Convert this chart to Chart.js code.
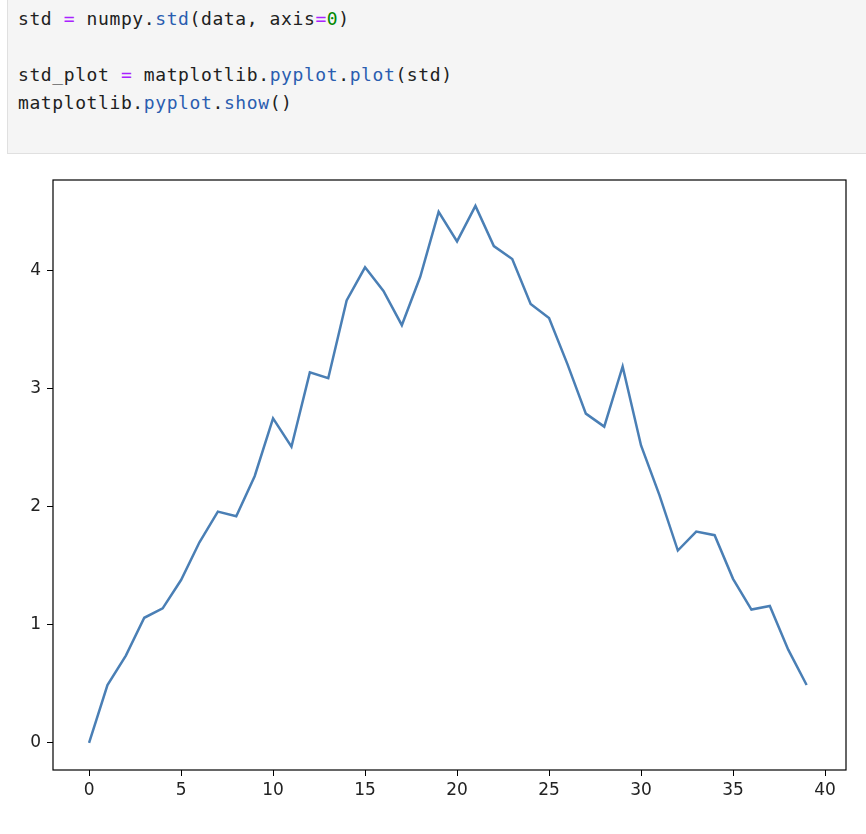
<!DOCTYPE html>
<html lang="en">
<head>
  <meta charset="UTF-8" />
  <title>std plot</title>
  <script src="https://cdn.jsdelivr.net/npm/chart.js"></script>
  <style>
    body { margin: 0; background: #fff; width: 866px; height: 834px; position: relative; overflow: hidden; }
    .code {
      position: absolute; left: 7px; top: -2px; width: 866px; height: 156px;
      background: #f5f5f5; border: 1px solid #e0e0e0; box-sizing: border-box;
    }
    pre {
      margin: 0; padding: 6px 10px; font-family: "DejaVu Sans Mono", "Liberation Mono", monospace;
      font-size: 18px; letter-spacing: 0.6px; line-height: 28px; color: #212121;
    }
    .op { color: #aa22ff; }
    .fn { color: #2a5db0; }
    .num { color: #008800; }
    .wrap { position: absolute; left: 0; top: 155px; width: 866px; height: 679px; }
  </style>
</head>
<body>
  <div class="code"><pre>std <span class="op">=</span> numpy<span>.</span><span class="fn">std</span>(data, axis<span class="op">=</span><span class="num">0</span>)

std_plot <span class="op">=</span> matplotlib.<span class="fn">pyplot</span>.<span class="fn">plot</span>(std)
matplotlib.<span class="fn">pyplot</span>.<span class="fn">show</span>()</pre></div>
  <div class="wrap"><canvas id="c"></canvas></div>
  <script>
    // values
    const stdValues = [0, 0.49, 0.74, 1.06, 1.14, 1.38, 1.70, 1.96, 1.92, 2.26,
      2.75, 2.51, 3.14, 3.09, 3.75, 4.03, 3.83, 3.54, 3.95, 4.50,
      4.25, 4.55, 4.21, 4.10, 3.72, 3.60, 3.21, 2.79, 2.68, 3.19,
      2.52, 2.10, 1.63, 1.79, 1.76, 1.39, 1.13, 1.16, 0.79, 0.49];
    const xTicks = [0, 5, 10, 15, 20, 25, 30, 35, 40];
    const yTicks = [0, 1, 2, 3, 4];

    const frame = {
      id: 'frame',
      afterDraw(chart) {
        const { ctx, chartArea: a } = chart;
        ctx.save();
        ctx.strokeStyle = '#000';
        ctx.lineWidth = 1.2;
        ctx.strokeRect(a.left, a.top, a.right - a.left, a.bottom - a.top);
        ctx.restore();
      }
    };

    new Chart(document.getElementById('c'), {
      type: 'line',
      data: {
        datasets: [{
          data: stdValues.map((v, i) => ({ x: i, y: v })),
          borderColor: '#4a7fb5',
          borderWidth: 2.5,
          pointRadius: 0,
          tension: 0,
          fill: false
        }]
      },
      options: {
        responsive: true,
        maintainAspectRatio: false,
        animation: false,
        layout: { padding: { top: 25, right: 20, bottom: 24, left: 0 } },
        plugins: { legend: { display: false }, tooltip: { enabled: false } },
        scales: {
          x: {
            type: 'linear', min: -1.96, max: 41.14,
            grid: { display: true, drawOnChartArea: false, drawTicks: true, tickLength: 6, tickColor: '#000' },
            border: { display: false },
            afterBuildTicks: s => { s.ticks = xTicks.map(v => ({ value: v })); },
            afterFit: s => { s.height = 40; },
            ticks: { color: '#222', font: { size: 17, family: 'DejaVu Sans' }, maxRotation: 0, padding: 4 }
          },
          y: {
            min: -0.23, max: 4.77,
            grid: { display: true, drawOnChartArea: false, drawTicks: true, tickLength: 6, tickColor: '#000' },
            border: { display: false },
            afterBuildTicks: s => { s.ticks = yTicks.map(v => ({ value: v })); },
            afterFit: s => { s.width = 53; },
            ticks: { color: '#222', font: { size: 17, family: 'DejaVu Sans' }, padding: 6 }
          }
        }
      },
      plugins: [frame]
    });
  </script>
</body>
</html>
